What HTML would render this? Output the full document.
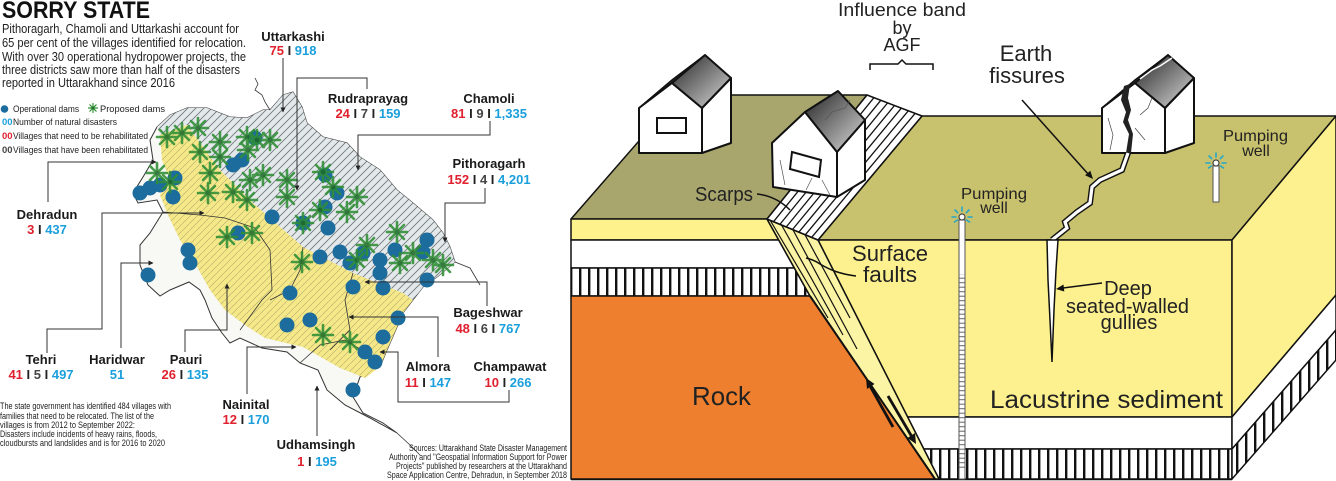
<!DOCTYPE html>
<html><head><meta charset="utf-8">
<style>
html,body{margin:0;padding:0;background:#fff;overflow:hidden;width:1336px;height:481px;}
svg{display:block;}
text{font-family:"Liberation Sans",Arial,sans-serif;}
.lb{font-weight:bold;font-size:13px;fill:#1a1a1a;text-anchor:middle;}
.r{fill:#e0202e}.g{fill:#444}.b{fill:#1a9fdc}.k{fill:#222}
.ld{fill:none;stroke:#333;stroke-width:1;}
.ol{stroke:#111;stroke-width:1.5;stroke-linejoin:round;}
.dt{font-size:16px;fill:#222;}
</style></head>
<body>
<svg width="1336" height="481" viewBox="0 0 1336 481" xmlns="http://www.w3.org/2000/svg">
<defs>
<pattern id="vs" width="9" height="40" patternUnits="userSpaceOnUse"><rect width="9" height="40" fill="#fff"/><rect x="3" width="2.4" height="40" fill="#111"/></pattern>
<pattern id="terr" width="8" height="8" patternUnits="userSpaceOnUse"><rect width="8" height="8" fill="#e3e8ea"/><path d="M0,8L8,0M-2,2L2,-2M6,10L10,6" stroke="#6f777c" stroke-width="0.8"/></pattern>
<pattern id="yel" width="7" height="7" patternUnits="userSpaceOnUse"><rect width="7" height="7" fill="#f4e888"/><path d="M0,7L7,0" stroke="#b5aa70" stroke-width="0.6"/></pattern>
<pattern id="lad" width="6" height="4.5" patternUnits="userSpaceOnUse"><rect width="6" height="4.5" fill="#fff"/><rect y="3.2" width="6" height="1" fill="#666"/></pattern>
<linearGradient id="roof" x1="0" y1="0" x2="1" y2="1"><stop offset="0" stop-color="#222"/><stop offset="1" stop-color="#dcdcdc"/></linearGradient>
<marker id="ah" viewBox="0 0 10 10" refX="9" refY="5" markerWidth="5" markerHeight="5" orient="auto"><path d="M0,0L10,5L0,10z" fill="#222"/></marker>
<g id="ast"><path d="M0,-10V10M-10,0H10M-7,-7L7,7M-7,7L7,-7" stroke="#2f8f35" stroke-width="2.6" stroke-linecap="round"/><circle r="2.5" fill="#1f6a2a"/></g>
<g id="sp"><path d="M-6,0H-10M6,0H10M-4.3,-4.3L-7,-7M4.3,-4.3L7,-7M0,-6V-10M-4.5,3L-7.5,5M4.5,3L7.5,5" stroke="#27a7c8" stroke-width="1.6" stroke-linecap="round"/></g>
</defs>

<!-- ============ LEFT PANEL ============ -->
<text x="2" y="18" font-size="24" font-weight="bold" fill="#111" textLength="148" lengthAdjust="spacingAndGlyphs">SORRY STATE</text>
<g font-size="13" fill="#222">
<text x="2" y="33" textLength="237" lengthAdjust="spacingAndGlyphs">Pithoragarh, Chamoli and Uttarkashi account for</text>
<text x="2" y="47" textLength="244" lengthAdjust="spacingAndGlyphs">65 per cent of the villages identified for relocation.</text>
<text x="2" y="61" textLength="244" lengthAdjust="spacingAndGlyphs">With over 30 operational hydropower projects, the</text>
<text x="2" y="74" textLength="238" lengthAdjust="spacingAndGlyphs">three districts saw more than half of the disasters</text>
<text x="2" y="87" textLength="173" lengthAdjust="spacingAndGlyphs">reported in Uttarakhand since 2016</text>
</g>
<!-- legend -->
<circle cx="4.5" cy="109" r="3.8" fill="#1c6c9d"/>
<g font-size="9.5" fill="#222">
<text x="13" y="112" textLength="66" lengthAdjust="spacingAndGlyphs">Operational dams</text>
<text x="100" y="112" textLength="65" lengthAdjust="spacingAndGlyphs">Proposed dams</text>
<text x="2" y="125" font-weight="bold" class="b">00</text>
<text x="13" y="125" textLength="104" lengthAdjust="spacingAndGlyphs">Number of natural disasters</text>
<text x="2" y="139" font-weight="bold" class="r">00</text>
<text x="13" y="139" textLength="135" lengthAdjust="spacingAndGlyphs">Villages that need to be rehabilitated</text>
<text x="2" y="153" font-weight="bold" class="g">00</text>
<text x="13" y="153" textLength="135" lengthAdjust="spacingAndGlyphs">Villages that have been rehabilitated</text>
</g>
<g transform="translate(93,108) scale(0.45)"><use href="#ast"/></g>

<!-- map -->
<path d="M157,127 L170,115 L187,108 L207,108 L230,117 L247,118 L263,110 L270,110 L283,95 L293,92 L302,107 L307,123 L323,137 L347,143 L360,157 L380,170 L397,190 L413,203 L433,220 L443,233 L450,247 L455,262 L437,277 L423,287 L413,300 L403,313 L397,327 L387,350 L380,367 L360,377 L353,397 L363,413 L383,423 L397,433 L370,418 L345,405 L327,390 L318,370 L300,363 L287,352 L262,348 L240,338 L230,343 L222,333 L212,318 L205,300 L200,290 L189,282 L170,290 L160,296 L148,285 L140,265 L140,245 L150,233 L163,212 L157,200 L138,203 L133,193 L143,177 L153,160 L150,140 Z" fill="#f8f8f4" stroke="#333" stroke-width="1"/>
<path d="M157,127 L170,115 L187,108 L207,108 L230,117 L247,118 L263,110 L270,110 L283,95 L293,92 L302,107 L307,123 L323,137 L347,143 L360,157 L380,170 L397,190 L413,203 L433,220 L443,233 L450,247 L455,262 L437,277 L423,287 L413,300 L403,293 L353,273 L303,247 L253,203 L220,170 L187,125 L160,135 Z" fill="url(#terr)"/>
<path d="M160,135 L187,125 L220,170 L253,203 L303,247 L353,273 L403,293 L413,300 L403,313 L397,327 L387,350 L380,367 L365,378 L340,368 L303,347 L265,338 L245,325 L225,310 L210,290 L196,265 L180,240 L168,215 L160,195 L170,180 L162,160 Z" fill="url(#yel)"/>
<g fill="none" stroke="#333" stroke-width="0.8">
<path d="M163,212 L200,215 L225,218 L255,228 L270,250 L272,290 L262,300 L240,330"/>
<path d="M303,247 L300,270 L290,290 L270,300"/>
<path d="M353,273 L345,300 L350,330 L330,350"/>
<path d="M300,363 L320,345 L345,340 L370,355 L380,367"/>
<path d="M255,78 L258,84 L255,90 L262,95 L265,102 L270,110"/>
<path d="M397,433 L410,445 L420,455"/>
<path d="M455,262 L470,268 L480,285"/>
</g>
<g fill="#1c6c9d">
<circle cx="140" cy="193" r="7.5"/><circle cx="150" cy="188" r="7.5"/><circle cx="160" cy="185" r="7.5"/><circle cx="175" cy="178" r="7.5"/><circle cx="173" cy="197" r="7.5"/>
<circle cx="233" cy="165" r="7.5"/><circle cx="242" cy="160" r="7.5"/><circle cx="255" cy="138" r="7.5"/><circle cx="272" cy="217" r="7.5"/>
<circle cx="188" cy="250" r="7.5"/><circle cx="190" cy="263" r="7.5"/><circle cx="148" cy="275" r="7.5"/><circle cx="238" cy="233" r="7.5"/><circle cx="303" cy="223" r="7.5"/>
<circle cx="325" cy="175" r="7.5"/><circle cx="337" cy="193" r="7.5"/><circle cx="325" cy="207" r="7.5"/><circle cx="328" cy="228" r="7.5"/>
<circle cx="320" cy="257" r="7.5"/><circle cx="340" cy="252" r="7.5"/><circle cx="350" cy="263" r="7.5"/><circle cx="363" cy="253" r="7.5"/><circle cx="380" cy="260" r="7.5"/><circle cx="380" cy="273" r="7.5"/><circle cx="353" cy="287" r="7.5"/><circle cx="383" cy="288" r="7.5"/><circle cx="395" cy="250" r="7.5"/>
<circle cx="427" cy="240" r="7.5"/><circle cx="423" cy="252" r="7.5"/><circle cx="427" cy="280" r="7.5"/>
<circle cx="290" cy="293" r="7.5"/><circle cx="287" cy="325" r="7.5"/><circle cx="310" cy="320" r="7.5"/>
<circle cx="398" cy="318" r="7.5"/><circle cx="383" cy="337" r="7.5"/><circle cx="365" cy="352" r="7.5"/><circle cx="375" cy="362" r="7.5"/><circle cx="353" cy="390" r="7.5"/>
</g>
<g opacity="0.88">
<use href="#ast" x="167" y="137"/><use href="#ast" x="182" y="133"/><use href="#ast" x="198" y="128"/><use href="#ast" x="200" y="152"/><use href="#ast" x="220" y="142"/><use href="#ast" x="220" y="157"/><use href="#ast" x="247" y="137"/><use href="#ast" x="270" y="140"/><use href="#ast" x="248" y="150"/><use href="#ast" x="210" y="173"/><use href="#ast" x="157" y="173"/><use href="#ast" x="170" y="182"/><use href="#ast" x="208" y="193"/><use href="#ast" x="233" y="192"/><use href="#ast" x="250" y="180"/><use href="#ast" x="263" y="175"/><use href="#ast" x="247" y="200"/><use href="#ast" x="227" y="237"/><use href="#ast" x="252" y="233"/><use href="#ast" x="287" y="180"/><use href="#ast" x="287" y="197"/><use href="#ast" x="323" y="172"/><use href="#ast" x="333" y="187"/><use href="#ast" x="357" y="197"/><use href="#ast" x="320" y="210"/><use href="#ast" x="347" y="212"/><use href="#ast" x="303" y="223"/><use href="#ast" x="302" y="262"/><use href="#ast" x="367" y="245"/><use href="#ast" x="397" y="232"/><use href="#ast" x="400" y="263"/><use href="#ast" x="357" y="260"/><use href="#ast" x="433" y="260"/><use href="#ast" x="413" y="253"/><use href="#ast" x="443" y="265"/><use href="#ast" x="323" y="335"/><use href="#ast" x="350" y="342"/><use href="#ast" x="257" y="140"/>
</g>

<!-- leaders -->
<g class="ld" marker-end="url(#ah)">
<path d="M283,58 V112"/>
<path d="M367,89 V78 H297 V190"/>
<path d="M490,121 V135 H358 V170"/>
<path d="M485,188 V203 H445 V242"/>
<path d="M487,306 V282 H365"/>
<path d="M438,357 V317 H349"/>
<path d="M509,390 V402 H398 V352 H380"/>
<path d="M247,394 V347 H296"/>
<path d="M317,436 V386"/>
<path d="M185,352 V330 H227 V284"/>
<path d="M121,348 V263 H153"/>
<path d="M47,353 V329 H102 V213 H204"/>
<path d="M48,202 V162 H156"/>
</g>

<!-- labels -->
<text class="lb" x="293" y="41">Uttarkashi</text>
<text class="lb" x="293" y="55"><tspan class="r">75</tspan><tspan class="k"> I </tspan><tspan class="b">918</tspan></text>
<text class="lb" x="368" y="103">Rudraprayag</text>
<text class="lb" x="368" y="118"><tspan class="r">24</tspan><tspan class="k"> I </tspan><tspan class="g">7</tspan><tspan class="k"> I </tspan><tspan class="b">159</tspan></text>
<text class="lb" x="489" y="103">Chamoli</text>
<text class="lb" x="489" y="118"><tspan class="r">81</tspan><tspan class="k"> I </tspan><tspan class="g">9</tspan><tspan class="k"> I </tspan><tspan class="b">1,335</tspan></text>
<text class="lb" x="489" y="168">Pithoragarh</text>
<text class="lb" x="489" y="184"><tspan class="r">152</tspan><tspan class="k"> I </tspan><tspan class="g">4</tspan><tspan class="k"> I </tspan><tspan class="b">4,201</tspan></text>
<text class="lb" x="488" y="317">Bageshwar</text>
<text class="lb" x="488" y="333"><tspan class="r">48</tspan><tspan class="k"> I </tspan><tspan class="g">6</tspan><tspan class="k"> I </tspan><tspan class="b">767</tspan></text>
<text class="lb" x="428" y="371">Almora</text>
<text class="lb" x="428" y="387"><tspan class="r">11</tspan><tspan class="k"> I </tspan><tspan class="b">147</tspan></text>
<text class="lb" x="510" y="371">Champawat</text>
<text class="lb" x="508" y="387"><tspan class="r">10</tspan><tspan class="k"> I </tspan><tspan class="b">266</tspan></text>
<text class="lb" x="246" y="409">Nainital</text>
<text class="lb" x="246" y="424"><tspan class="r">12</tspan><tspan class="k"> I </tspan><tspan class="b">170</tspan></text>
<text class="lb" x="316" y="449">Udhamsingh</text>
<text class="lb" x="317" y="466"><tspan class="r">1</tspan><tspan class="k"> I </tspan><tspan class="b">195</tspan></text>
<text class="lb" x="186" y="364">Pauri</text>
<text class="lb" x="185" y="379"><tspan class="r">26</tspan><tspan class="k"> I </tspan><tspan class="b">135</tspan></text>
<text class="lb" x="117" y="364">Haridwar</text>
<text class="lb" x="117" y="379"><tspan class="b">51</tspan></text>
<text class="lb" x="41" y="364">Tehri</text>
<text class="lb" x="41" y="379"><tspan class="r">41</tspan><tspan class="k"> I </tspan><tspan class="g">5</tspan><tspan class="k"> I </tspan><tspan class="b">497</tspan></text>
<text class="lb" x="47" y="219">Dehradun</text>
<text class="lb" x="47" y="234"><tspan class="r">3</tspan><tspan class="k"> I </tspan><tspan class="b">437</tspan></text>

<!-- notes -->
<g font-size="9" fill="#222">
<text x="0" y="409" textLength="171" lengthAdjust="spacingAndGlyphs">The state government has identified 484 villages with</text>
<text x="0" y="419" textLength="154" lengthAdjust="spacingAndGlyphs">families that need to be relocated. The list of the</text>
<text x="0" y="428" textLength="135" lengthAdjust="spacingAndGlyphs">villages is from 2012 to September 2022:</text>
<text x="0" y="437" textLength="157" lengthAdjust="spacingAndGlyphs">Disasters include incidents of heavy rains, floods,</text>
<text x="0" y="446" textLength="165" lengthAdjust="spacingAndGlyphs">cloudbursts and landslides and is for 2016 to 2020</text>
</g>
<g font-size="8.8" fill="#222">
<text x="409" y="451" textLength="158" lengthAdjust="spacingAndGlyphs">Sources: Uttarakhand State Disaster Management</text>
<text x="389" y="460" textLength="178" lengthAdjust="spacingAndGlyphs">Authority and "Geospatial Information Support for Power</text>
<text x="396" y="469" textLength="171" lengthAdjust="spacingAndGlyphs">Projects" published by researchers at the Uttarakhand</text>
<text x="387" y="478" textLength="180" lengthAdjust="spacingAndGlyphs">Space Application Centre, Dehradun, in September 2018</text>
</g>

<!-- ============ RIGHT PANEL ============ -->
<!-- left block -->
<polygon class="ol" points="571,219 679,95 867,95 767,219" fill="#a9a66d"/>
<polygon class="ol" points="571,219 767,219 778.7,240 571,240" fill="#fdf28b"/>
<polygon class="ol" points="571,240 778.7,240 794.3,268 571,268" fill="#fff"/>
<polygon class="ol" points="571,268 794.3,268 810,296 571,296" fill="url(#vs)"/>
<polygon class="ol" points="571,296 810,296 935,479 571,479" fill="#ee7f2e"/>

<!-- right block -->
<polygon class="ol" points="922,116 1336,116 1232,240 818,240" fill="#c8c16d"/>
<polygon class="ol" points="818,240 1232,240 1232,417 907.6,417" fill="#fcf18e"/>
<polygon class="ol" points="907.6,417 1232,417 1232,449 923.8,449" fill="#fff"/>
<polygon class="ol" points="923.8,449 1232,449 1232,479 939,479" fill="url(#vs)"/>
<polygon class="ol" points="1232,240 1336,116 1336,295 1232,417" fill="#fcf18e"/>
<polygon class="ol" points="1232,417 1336,295 1336,330 1232,449" fill="#fff"/>
<polygon class="ol" points="1232,449 1336,330 1336,360 1232,479" fill="url(#vs)"/>

<!-- fault zone -->
<polygon points="767,219 818,240 939,479 935,479 810,296" fill="#fbf4a4" stroke="#111" stroke-width="1.5" stroke-linejoin="round"/>
<g stroke="#111" stroke-width="1.2" fill="none">
<path d="M770,220 L828,318"/>
<path d="M781,224 L843,335"/>
<path d="M792,228 L857,349"/>
<path d="M804,233 L850,318"/>
</g>
<path d="M810,296 L935,479" stroke="#111" stroke-width="2"/>

<!-- stairs band -->
<polygon class="ol" points="867,95 922,116 818,240 767,219" fill="#fff"/>
<g stroke="#111" stroke-width="1.3">
<path d="M873.9,97.7 L773.4,221.8"/><path d="M880.8,100.3 L779.8,224.5"/><path d="M887.6,102.9 L786.1,227.1"/><path d="M894.5,105.5 L792.5,229.5"/><path d="M901.4,108.1 L798.9,232.1"/><path d="M908.3,110.8 L805.3,234.8"/><path d="M915.1,113.4 L811.6,237.4"/>
</g>

<!-- bottom border -->
<path d="M571,479.5 H1232" stroke="#111" stroke-width="1.5"/>

<!-- house 1 -->
<polygon points="639,108 672,83 705,55 672,80" fill="#333" stroke="#111" stroke-width="1.5"/>
<polygon points="639,153 639,108 672,83 702,108 702,153" fill="#fff" stroke="#111" stroke-width="2" stroke-linejoin="round"/>
<polygon points="702,108 731,78 731,143 702,153" fill="#fff" stroke="#111" stroke-width="2" stroke-linejoin="round"/>
<polygon points="672,83 705,55 731,78 702,108" fill="url(#roof)" stroke="#111" stroke-width="2" stroke-linejoin="round"/>
<rect x="657" y="118" width="29" height="15" fill="#fff" stroke="#111" stroke-width="2"/>

<!-- house 2 tilted -->
<polygon points="772,143 805,112 838,91 806,118" fill="#333" stroke="#111" stroke-width="1.5"/>
<polygon points="773,187 772,143 805,112 837,152 837,197" fill="#fff" stroke="#111" stroke-width="2" stroke-linejoin="round"/>
<polygon points="837,152 865,120 865,180 837,197" fill="#fff" stroke="#111" stroke-width="2" stroke-linejoin="round"/>
<polygon points="805,112 838,91 865,120 837,152" fill="url(#roof)" stroke="#111" stroke-width="2" stroke-linejoin="round"/>
<polygon points="792,152 821,160 819,177 790,169" fill="#fff" stroke="#111" stroke-width="2"/>
<g stroke="#555" stroke-width="0.7" fill="none">
<path d="M780,160 L785,185"/><path d="M822,180 L830,195"/><path d="M812,178 L806,190"/><path d="M825,120 L832,112 L845,108 L850,100"/>
</g>

<!-- house 3 cracked -->
<polygon points="1102,108 1135,83 1168,55 1135,80" fill="#333" stroke="#111" stroke-width="1.5"/>
<polygon points="1102,153 1102,108 1135,83 1165,108 1165,153" fill="#fff" stroke="#111" stroke-width="2" stroke-linejoin="round"/>
<polygon points="1165,108 1194,78 1194,143 1165,153" fill="#fff" stroke="#111" stroke-width="2" stroke-linejoin="round"/>
<polygon points="1135,83 1168,55 1194,78 1165,108" fill="url(#roof)" stroke="#111" stroke-width="2" stroke-linejoin="round"/>
<path d="M1140,79 L1152,70 L1160,66 L1172,58" stroke="#fff" stroke-width="1.5" fill="none"/>
<path d="M1124,86 L1121,100 L1126,112 L1123,122 L1129,134 L1126,153 L1131,153 L1133,134 L1128,120 L1131,110 L1128,98 L1130,84 Z" fill="#222"/>
<g stroke="#444" stroke-width="0.7" fill="none">
<path d="M1108,118 L1113,135 L1110,150"/><path d="M1140,115 L1148,108 L1152,98"/><path d="M1135,128 L1145,140"/>
</g>

<!-- fissure -->
<polyline points="1128,153 1122,170 1100,180 1092,187 1090,203 1077,212 1065,222 1067,228 1052,240" fill="none" stroke="#111" stroke-width="6" stroke-linejoin="miter"/>
<polyline points="1128,153 1122,170 1100,180 1092,187 1090,203 1077,212 1065,222 1067,228 1052,240" fill="none" stroke="#fff" stroke-width="3.2" stroke-linejoin="miter"/>
<polygon points="1047,240 1058,240 1056,270 1054,310 1052,362 1050,320 1048,280" fill="#fff" stroke="#111" stroke-width="1.5"/>

<!-- wells -->
<rect x="959" y="220" width="6" height="259" fill="#fff" stroke="#555" stroke-width="1"/>
<rect x="959.5" y="274" width="5" height="196" fill="url(#lad)"/>
<circle cx="962" cy="217" r="3" fill="#fff" stroke="#444" stroke-width="1.2"/>
<use href="#sp" x="962" y="217"/>
<rect x="1213" y="166" width="6" height="36" fill="#fff" stroke="#555" stroke-width="1"/>
<circle cx="1216" cy="163" r="3" fill="#fff" stroke="#444" stroke-width="1.2"/>
<use href="#sp" x="1216" y="163"/>

<!-- arrows / leaders -->
<g stroke="#111" fill="none" stroke-width="1.5">
<path d="M1022,100 L1089,175"/>
<path d="M1102,283 L1063,288"/>
<path d="M757,194 Q776,196 790,210"/>
<path d="M856,276 C840,274 830,270 820,264 C814,260 810,259 806,258"/>
<path d="M870,70 L870,64 L898,64 L902,60 L906,64 L933,64 L933,70"/>
</g>
<g fill="#111">
<polygon points="1093,179 1085.1,175.3 1090.3,170.7"/>
<polygon points="1056,289 1063.5,284.5 1064.3,291.5"/>
</g>
<g stroke="#111" stroke-width="2.8">
<path d="M893,427 L870,386"/>
<path d="M888,396 L912,437"/>
</g>
<g fill="#111">
<polygon points="866,378 874.5,384 867,389"/>
<polygon points="916,444 907.5,438 915,433"/>
</g>

<!-- right panel text -->
<text x="902" y="16" font-size="18" fill="#222" text-anchor="middle" textLength="128" lengthAdjust="spacingAndGlyphs">Influence band</text>
<text x="902" y="34" font-size="18" fill="#222" text-anchor="middle">by</text>
<text x="902" y="51" font-size="18" fill="#222" text-anchor="middle">AGF</text>
<text x="1026" y="61" font-size="22" fill="#222" text-anchor="middle">Earth</text>
<text x="1027" y="83" font-size="22" fill="#222" text-anchor="middle">fissures</text>
<text x="695" y="201" font-size="20" fill="#222" textLength="58" lengthAdjust="spacingAndGlyphs">Scarps</text>
<text x="852" y="261" font-size="22" fill="#222" textLength="76" lengthAdjust="spacingAndGlyphs">Surface</text>
<text x="863" y="282" font-size="22" fill="#222" textLength="54" lengthAdjust="spacingAndGlyphs">faults</text>
<text x="961" y="199" class="dt" textLength="66" lengthAdjust="spacingAndGlyphs">Pumping</text>
<text x="994" y="213" class="dt" text-anchor="middle">well</text>
<text x="1223" y="141" class="dt" textLength="65" lengthAdjust="spacingAndGlyphs">Pumping</text>
<text x="1256" y="156" class="dt" text-anchor="middle">well</text>
<text x="1128" y="295" font-size="20" fill="#222" text-anchor="middle">Deep</text>
<text x="1066" y="313" font-size="20" fill="#222" textLength="123" lengthAdjust="spacingAndGlyphs">seated-walled</text>
<text x="1129" y="329" font-size="20" fill="#222" text-anchor="middle">gullies</text>
<text x="692" y="405" font-size="26" fill="#222" textLength="59" lengthAdjust="spacingAndGlyphs">Rock</text>
<text x="990" y="408" font-size="25" fill="#222" textLength="233" lengthAdjust="spacingAndGlyphs">Lacustrine sediment</text>
</svg>
</body></html>
